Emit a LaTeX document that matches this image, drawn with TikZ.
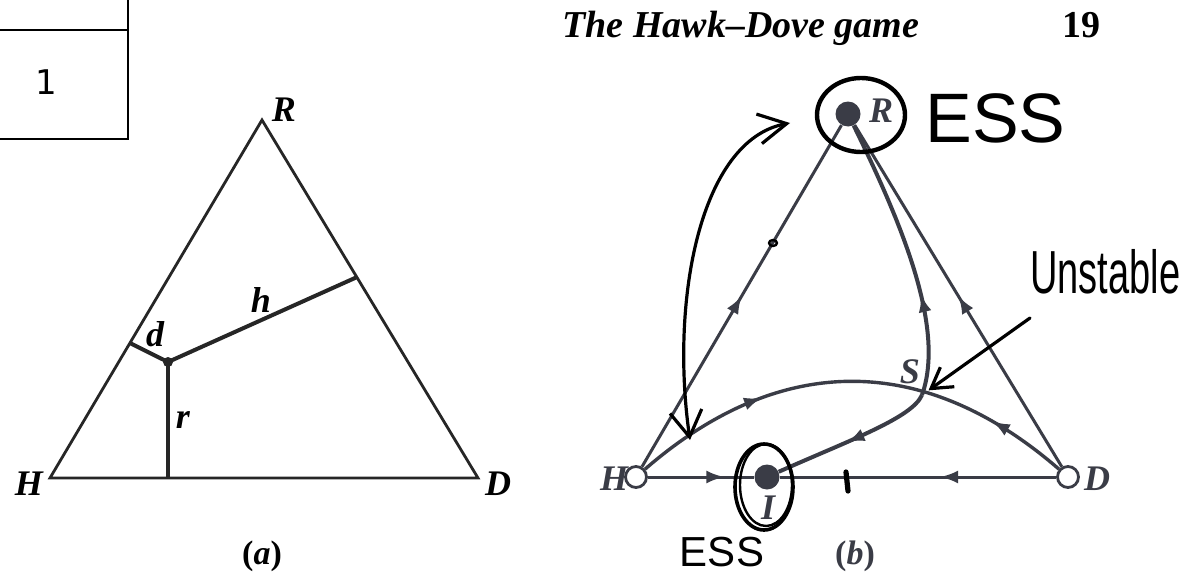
\documentclass[tikz,border=0pt]{standalone}
\usepackage{fontspec}
\setmainfont{Liberation Serif}
\newfontfamily\handfont{Liberation Sans}
\newfontfamily\boxfont{DejaVu Sans}
\usetikzlibrary{arrows.meta,decorations.markings,calc}
\definecolor{inkgray}{RGB}{58,60,70}

\begin{document}
\begin{tikzpicture}[x=0.5pt, y=-0.5pt, >={Latex[length=9pt,width=6.5pt]},
  lbl/.style={font=\fontsize{18}{18}\selectfont\bfseries\itshape, inner sep=0pt},
  tri/.style={line width=1.4pt, black!85},
  leg/.style={line width=2pt, black!85},
  flow/.style={line width=1.5pt, inkgray, postaction={decorate}},
  fixdot/.style={circle, fill=inkgray, inner sep=0pt, minimum size=12.5pt},
  opendot/.style={circle, draw=inkgray, line width=1.4pt, fill=white, inner sep=0pt, minimum size=10.5pt},
  hand/.style={line width=1.6pt, black, line cap=round, line join=round},
  handtext/.style={font=\handfont, inner sep=0pt},
  handarrow/.style={hand, {Straight Barb[length=13pt,width=16pt]}-{Straight Barb[length=14pt,width=15pt]}}]
\fill[white] (0,0) rectangle (1179,573);
\useasboundingbox (0,0) rectangle (1179,573);

% page header
\draw[line width=1.1pt] (0,30) -- (128,30);
\draw[line width=1.1pt] (128,0) -- (128,139) -- (0,139);
\node[font=\boxfont\fontsize{17}{17}\selectfont] (one) at (46,82) {1};
\node[font=\fontsize{19}{19}\selectfont\bfseries\itshape, anchor=base west, inner sep=0pt] (title) at (562,38) {The Hawk--Dove game};
\node[font=\fontsize{19}{19}\selectfont\bfseries, anchor=base west, inner sep=0pt] (pageno) at (1062,38) {19};

% (a) simplex with distances
\coordinate (Ra) at (262,120);
\coordinate (Ha) at (50,478);
\coordinate (Da) at (478,478);
\node[circle, fill=black!85, inner sep=0pt, minimum size=5pt] (P) at (168,362) {};
\coordinate (Fd) at ($(Ha)!0.377!(Ra)$);
\coordinate (Fh) at ($(Da)!0.561!(Ra)$);
\coordinate (Fr) at (P |- Ha);
\draw[tri] (Ha) -- (Ra) -- (Da) -- cycle;
\draw[leg] (P.center) -- (Fd) (P.center) -- (Fh);
\draw[leg, line width=2.4pt] (P.center) -- (Fr);
\foreach \n/\x/\y/\t in {labRa/284/110/R, labHa/29/484/H, labDa/498/484/D,
    labd/155/334/d, labh/261/300/h, labr/183/420/r}{
  \node[lbl] (\n) at (\x,\y) {\t};
}
\node[font=\fontsize{17}{17}\selectfont\bfseries] (capa) at (262,556) {(\textit{a})};

% (b) flows on the simplex
\node[fixdot] (R) at (848,114) {};
\node[opendot] (H) at (636,477) {};
\node[opendot] (D) at (1068,477) {};
\node[fixdot] (I) at (767,477) {};
\coordinate (S) at (922,395);
\draw[flow, decoration={markings, mark=at position 0.5 with {\arrow{>}}}] (H) -- (R);
\draw[flow, decoration={markings, mark=at position 0.5 with {\arrow{>}}}] (D) -- (R);
\draw[flow, decoration={markings, mark=at position 0.72 with {\arrow{>}}}] (H) -- (I);
\draw[flow, decoration={markings, mark=at position 0.42 with {\arrow{>}}}] (D) -- (I);
\draw[flow, line width=1.7pt, decoration={markings, mark=at position 0.3 with {\arrow{>}},
    mark=at position 0.82 with {\arrowreversed{>}}}] (H) .. controls (780,352) and (924,352) .. (D);
\draw[flow, line width=2pt, decoration={markings, mark=at position 0.36 with {\arrow{>}}}]
  (S) .. controls (945,330) and (905,230) .. (R);
\draw[flow, line width=2pt, decoration={markings, mark=at position 0.55 with {\arrow{>}}}]
  (S) .. controls (912,418) and (850,440) .. (I);
\foreach \n/\x/\y/\t in {labR/881/111/R, labS/910/372/S, labI/768/508/I,
    labH/614/479/H, labD/1097/479/D}{
  \node[lbl, text=inkgray] (\n) at (\x,\y) {\t};
}
\node[font=\fontsize{17}{17}\selectfont\bfseries, text=inkgray] (capb) at (855,556) {(\textit{b})};

% pen notes
\draw[hand, line width=2.2pt] ($(R)+(13,1)$) ellipse [x radius=44, y radius=37];
\draw[hand, line width=1.8pt] ($(I)+(-3,10)$) ellipse [x radius=29, y radius=43];
\draw[hand, line width=1.2pt] ($(I)+(-1,8)$) ellipse [x radius=26, y radius=41];
\node[handtext, font=\handfont\fontsize{35}{35}\selectfont, anchor=west] (essR) at (925,118) {ESS};
\node[handtext, font=\handfont\fontsize{21}{21}\selectfont] (essI) at (722,552) {ESS};
\node[handtext, font=\handfont\fontsize{19}{19}\selectfont, yscale=1.6, anchor=west] (unst) at (1030,272) {Unstable};
\coordinate (unsttail) at (1030,318);
\draw[hand, -{Straight Barb[length=10pt,width=12pt]}, shorten >=4pt] (unsttail) -- (S);
\coordinate (hlow) at (690,440);
\coordinate (htop) at (790,123);
\draw[handarrow] (hlow) .. controls (670,300) and (700,140) .. (htop);
\draw[hand, line width=1.2pt] (773,243) ellipse [x radius=4, y radius=3];
\draw[hand, line width=2.6pt] (846,472) -- (848,491);
\end{tikzpicture}
\end{document}
